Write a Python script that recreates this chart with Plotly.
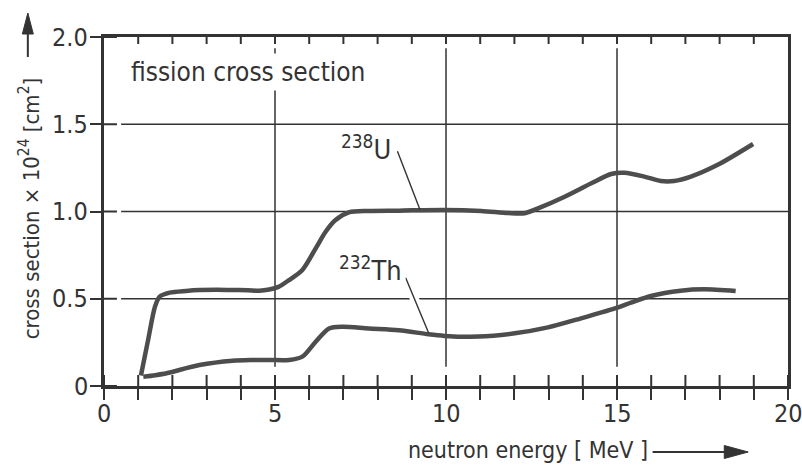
import plotly.graph_objects as go

# Fission cross sections (in units of 1e-24 cm^2) versus neutron energy (MeV)
u238_energy = [1.08, 1.29, 1.49, 1.63, 1.92, 2.4, 2.79, 3.3, 3.76, 4.2, 4.54, 4.83,
               5.1, 5.41, 5.80, 6.19, 6.48, 6.77, 7.16, 7.74, 8.62, 9.96, 11.03,
               11.82, 12.30, 12.69, 13.47, 14.25, 14.83, 15.22, 15.80, 16.28, 16.67,
               17.16, 17.93, 18.98]
u238_sigma = [0.06, 0.264, 0.454, 0.512, 0.535, 0.545, 0.55, 0.552, 0.55, 0.549, 0.546, 0.553,
              0.568, 0.607, 0.665, 0.789, 0.884, 0.951, 0.995, 1.003, 1.005, 1.009, 1.003,
              0.991, 0.99, 1.018, 1.085, 1.162, 1.215, 1.222, 1.20, 1.175, 1.175,
              1.20, 1.266, 1.387]

th232_energy = [1.15, 1.5, 1.83, 2.79, 3.76, 4.3, 4.83, 5.41, 5.80, 6.19, 6.58, 6.97,
                7.74, 8.62, 9.49, 9.96, 10.95, 12.01, 12.98, 13.95, 14.94, 15.41,
                15.99, 16.86, 17.55, 18.47]
th232_sigma = [0.053, 0.062, 0.073, 0.12, 0.145, 0.149, 0.149, 0.149, 0.168, 0.254, 0.33, 0.34,
               0.33, 0.32, 0.296, 0.287, 0.283, 0.302, 0.336, 0.388, 0.445, 0.478,
               0.516, 0.546, 0.554, 0.544]

x_ticks = list(range(0, 21))
x_label_vals = [0, 5, 10, 15, 20]
x_label_text = ["0", "5", "10", "15", "20"]
y_ticks = [0, 0.5, 1.0, 1.5, 2.0]
y_tick_text = ["0", "0.5", "1.0", "1.5", "2.0"]
x_grid = [5, 10, 15]
y_grid = [0.5, 1.0, 1.5]

X_RANGE = [0, 20]
Y_RANGE = [0, 2]

FONT = "Liberation Sans Narrow, Arial Narrow, DejaVu Sans Condensed, sans-serif"
INK = "#333333"
CURVE = "#4d4d4d"

W, H = 802, 468
L, R, T, B = 104, 11, 37, 82
PW, PH = W - L - R, H - T - B
X_PER_PX = (X_RANGE[1] - X_RANGE[0]) / PW
Y_PER_PX = (Y_RANGE[1] - Y_RANGE[0]) / PH


def px(xp, yp):
    """Pixel position on the page -> paper coordinates."""
    return (xp - L) / PW, (H - B - yp) / PH


fig = go.Figure()

for xs, ys in ((u238_energy, u238_sigma), (th232_energy, th232_sigma)):
    fig.add_trace(go.Scatter(x=xs, y=ys, mode="lines",
                             line=dict(color=CURVE, width=4.5, shape="spline", smoothing=0.8),
                             hoverinfo="skip", showlegend=False))

# inward halves of the tick marks (the outward halves come from the axes)
tx, ty = [], []
for v in x_ticks:
    tx += [v, v, None]
    ty += [Y_RANGE[0], Y_RANGE[0] + 11 * Y_PER_PX, None]
for v in x_ticks[1:-1]:
    tx += [v, v, None]
    ty += [Y_RANGE[1], Y_RANGE[1] - 7 * Y_PER_PX, None]
for v in y_ticks:
    tx += [X_RANGE[0], X_RANGE[0] + 13 * X_PER_PX, None]
    ty += [v, v, None]
fig.add_trace(go.Scatter(x=tx, y=ty, mode="lines", line=dict(color=INK, width=2),
                         hoverinfo="skip", showlegend=False))

shapes = []
# grid lines, stopping short of the frame
for gx in x_grid:
    shapes.append(dict(type="line", xref="x", yref="y", x0=gx, x1=gx, y0=0.11, y1=1.935,
                       line=dict(color=INK, width=1.5), layer="below"))
for gy in y_grid:
    shapes.append(dict(type="line", xref="x", yref="y", x0=0.5, x1=20, y0=gy, y1=gy,
                       line=dict(color=INK, width=1.5), layer="below"))

# leader lines from the isotope labels to their curves (white casing breaks the grid)
leaders = [((8.58, 1.345), (9.24, 1.01)), ((8.82, 0.62), (9.49, 0.305))]
for (xa, ya), (xb, yb) in leaders:
    shapes.append(dict(type="line", xref="x", yref="y", x0=xa, y0=ya, x1=xb, y1=yb,
                       line=dict(color="white", width=9), layer="below"))
    shapes.append(dict(type="line", xref="x", yref="y", x0=xa, y0=ya, x1=xb, y1=yb,
                       line=dict(color=INK, width=1.4), layer="above"))

# axis arrows
ax0, ay0 = px(655, 452)
ax1, _ = px(730, 452)
shapes.append(dict(type="line", xref="paper", yref="paper", x0=ax0, y0=ay0, x1=ax1, y1=ay0,
                   line=dict(color=INK, width=2)))
p1, p2, p3 = px(727, 445.5), px(751, 452), px(727, 458.5)
shapes.append(dict(type="path", xref="paper", yref="paper",
                   path=f"M{p1[0]},{p1[1]} L{p2[0]},{p2[1]} L{p3[0]},{p3[1]} Z",
                   fillcolor=INK, line=dict(color=INK, width=1)))

vx, vy0 = px(27.5, 57)
_, vy1 = px(27.5, 30)
shapes.append(dict(type="line", xref="paper", yref="paper", x0=vx, y0=vy0, x1=vx, y1=vy1,
                   line=dict(color=INK, width=2)))
q1, q2, q3 = px(22, 34), px(27.5, 13), px(33, 34)
shapes.append(dict(type="path", xref="paper", yref="paper",
                   path=f"M{q1[0]},{q1[1]} L{q2[0]},{q2[1]} L{q3[0]},{q3[1]} Z",
                   fillcolor=INK, line=dict(color=INK, width=1)))

tick_font = dict(family=FONT, size=25, color=INK)
annotations = [
    dict(text="fission cross section", x=0.66, y=1.80, xref="x", yref="y",
         xanchor="left", yanchor="middle", showarrow=False, bgcolor="white", borderpad=3,
         font=dict(family=FONT, size=26, color=INK)),
    dict(text="<sup>238</sup>U", x=8.5, y=1.245, xref="x", yref="y",
         xanchor="right", yanchor="bottom", showarrow=False, bgcolor="white", borderpad=3,
         font=dict(family=FONT, size=27, color=INK)),
    dict(text="<sup>232</sup>Th", x=8.82, y=0.552, xref="x", yref="y",
         xanchor="right", yanchor="bottom", showarrow=False, bgcolor="white", borderpad=3,
         font=dict(family=FONT, size=27, color=INK)),
    dict(text="neutron energy [ MeV ]", x=px(530, 0)[0], y=px(0, 450)[1],
         xref="paper", yref="paper", xanchor="center", yanchor="middle", showarrow=False,
         font=dict(family=FONT, size=23, color=INK)),
    dict(text="cross section × 10<sup>24</sup> [cm<sup>2</sup>]", x=px(29, 0)[0],
         y=px(0, 208)[1], xref="paper", yref="paper", xanchor="center", yanchor="middle",
         textangle=-90, showarrow=False, font=dict(family=FONT, size=22, color=INK)),
]
# tick labels
for v, t in zip(x_label_vals, x_label_text):
    annotations.append(dict(text=t, x=v, y=px(0, 397)[1], xref="x", yref="paper",
                            xanchor="center", yanchor="top", showarrow=False,
                            font=tick_font))
for v, t in zip(y_ticks, y_tick_text):
    annotations.append(dict(text=t, x=px(90, 0)[0], y=v, xref="paper", yref="y",
                            xanchor="right", yanchor="middle", showarrow=False,
                            font=tick_font))

fig.update_layout(
    width=W, height=H, margin=dict(l=L, r=R, t=T, b=B, pad=0),
    paper_bgcolor="white", plot_bgcolor="white",
    shapes=shapes, annotations=annotations, showlegend=False,
    xaxis=dict(range=X_RANGE, tickmode="array", tickvals=x_ticks, showticklabels=False,
               ticks="outside", ticklen=11, tickwidth=2, tickcolor=INK,
               showline=True, linewidth=2.5, linecolor=INK, mirror=True,
               showgrid=False, zeroline=False, fixedrange=True),
    yaxis=dict(range=Y_RANGE, tickmode="array", tickvals=y_ticks, showticklabels=False,
               ticks="outside", ticklen=11, tickwidth=2, tickcolor=INK,
               showline=True, linewidth=2.5, linecolor=INK, mirror=True,
               showgrid=False, zeroline=False, fixedrange=True),
)

fig.write_html("out.html")
